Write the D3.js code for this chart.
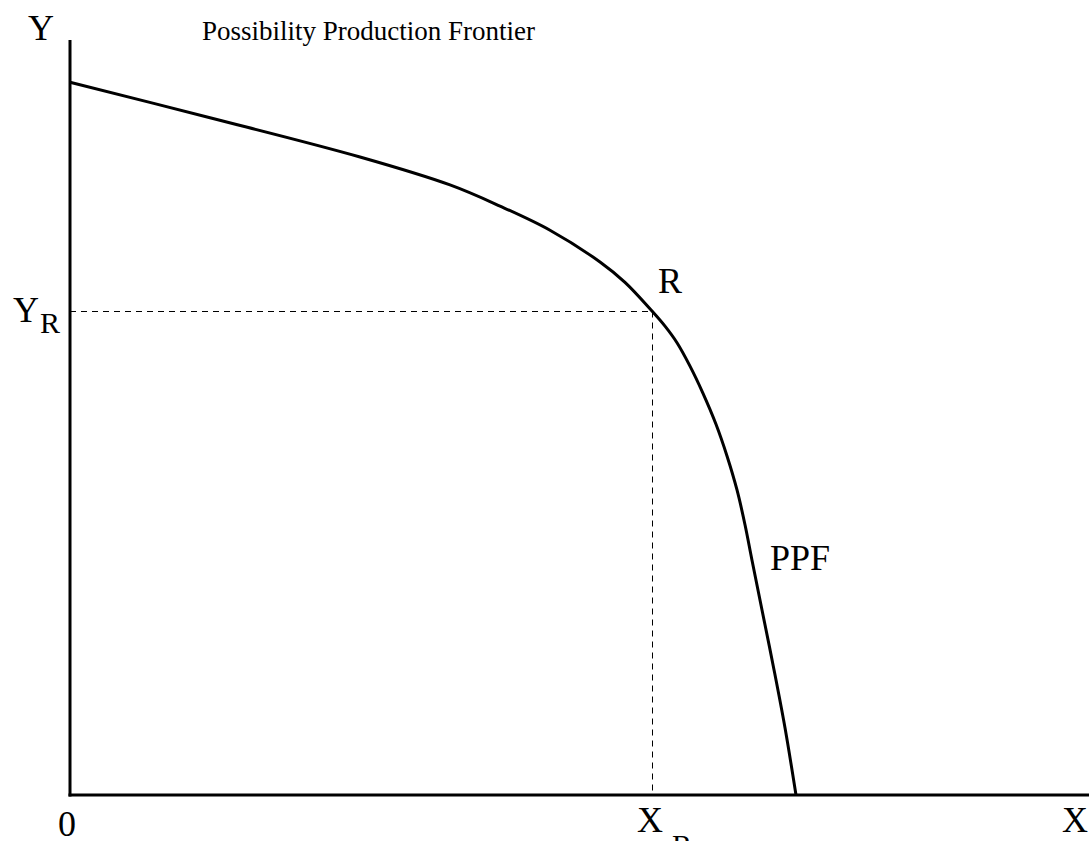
<!DOCTYPE html>
<html>
<head>
<meta charset="utf-8">
<script src="https://cdn.jsdelivr.net/npm/d3@7"></script>
<style>
  html, body { margin: 0; padding: 0; background: #fff; }
  svg { display: block; }
  text { font-family: "Liberation Serif", "Times New Roman", serif; fill: #000; }
</style>
</head>
<body>
<script>
// Production possibility frontier: output of good X against good Y
const frontierX = [0, 14, 29, 38, 43, 48, 53, 55.5, 58.2, 59.5, 60.7, 62, 63.3, 64.6, 65.7, 66.7, 67.5, 68.2, 69.2, 70.4, 71.5, 72.6];
const frontierY = [94.4, 89.7, 84.5, 80.8, 78.0, 74.8, 70.6, 67.9, 64.1, 62.1, 59.9, 56.8, 53.2, 49.1, 44.9, 40.4, 35.8, 31.1, 24.5, 16.6, 8.9, 0];

// Point R on the frontier
const pointR = { x: 58.2, y: 64.1 };

const title = "Possibility Production Frontier";

const width = 1089, height = 841;
const svg = d3.select("body").append("svg")
  .attr("width", width).attr("height", height);

const x = d3.scaleLinear().domain([0, 102]).range([70, 1090]);
const y = d3.scaleLinear().domain([0, 100]).range([795, 40]);

// Axes
svg.append("line")
  .attr("x1", x(0)).attr("x2", x(0))
  .attr("y1", y(100)).attr("y2", y(0) + 1.5)
  .attr("stroke", "#000").attr("stroke-width", 3);
svg.append("line")
  .attr("x1", x(0) - 1.5).attr("x2", width)
  .attr("y1", y(0)).attr("y2", y(0))
  .attr("stroke", "#000").attr("stroke-width", 3);

// Dashed guides to R
const rx = Math.round(x(pointR.x)) + 0.5, ry = Math.round(y(pointR.y)) + 0.5;
svg.append("line")
  .attr("x1", x(0)).attr("x2", rx)
  .attr("y1", ry).attr("y2", ry)
  .attr("stroke", "#000").attr("stroke-width", 1)
  .attr("stroke-dasharray", "6,5");
svg.append("line")
  .attr("x1", rx).attr("x2", rx)
  .attr("y1", ry).attr("y2", y(0))
  .attr("stroke", "#000").attr("stroke-width", 1)
  .attr("stroke-dasharray", "6,5");

// Frontier curve
const pts = frontierX.map((v, i) => [v, frontierY[i]]);
const line = d3.line()
  .x(d => x(d[0])).y(d => y(d[1]))
  .curve(d3.curveCatmullRom.alpha(0.5));
svg.append("path")
  .datum(pts)
  .attr("d", line)
  .attr("fill", "none")
  .attr("stroke", "#000")
  .attr("stroke-width", 3)
  .attr("stroke-linejoin", "round");

// Labels
const fs = 36, fsSub = 30;
svg.append("text").attr("x", 202).attr("y", 40).attr("font-size", 27).text(title);
svg.append("text").attr("x", 28).attr("y", 40).attr("font-size", fs).text("Y");

const yr = svg.append("text").attr("x", 13).attr("y", y(pointR.y) + 11).attr("font-size", fs);
yr.append("tspan").text("Y");
yr.append("tspan").attr("font-size", fsSub).attr("dy", 11).attr("dx", 1).text("R");

svg.append("text").attr("x", x(0) - 3).attr("y", 836).attr("font-size", fs)
  .attr("text-anchor", "middle").text("0");

const xr = svg.append("text").attr("x", x(pointR.x) - 15).attr("y", 832).attr("font-size", fs);
xr.append("tspan").text("X");
xr.append("tspan").attr("font-size", fsSub).attr("dy", 23).attr("dx", 9).text("R");

svg.append("text").attr("x", 1062).attr("y", 832).attr("font-size", fs).text("X");
svg.append("text").attr("x", x(pointR.x) + 6).attr("y", y(pointR.y) - 18).attr("font-size", fs).text("R");
svg.append("text").attr("x", 770).attr("y", 570).attr("font-size", fs).text("PPF");
</script>
</body>
</html>
